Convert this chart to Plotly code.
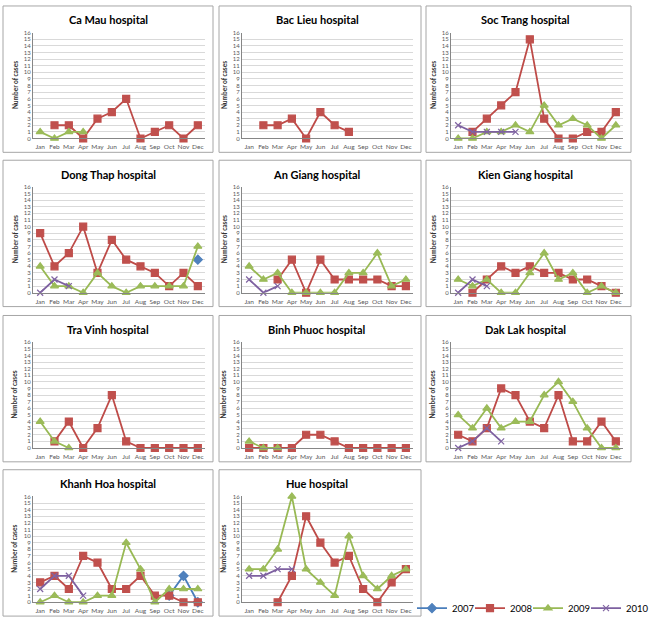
import plotly.graph_objects as go

# ── data ─────────────────────────────────────────────────────────────────────
MONTHS = ["Jan", "Feb", "Mar", "Apr", "May", "Jun",
          "Jul", "Aug", "Sep", "Oct", "Nov", "Dec"]
YEARS = ["2007", "2008", "2009", "2010"]
N = None

CA_MAU_2008 = [N, 2, 2, 0, 3, 4, 6, 0, 1, 2, 0, 2]
CA_MAU_2009 = [1, 0, 1, 1, N, N, N, N, N, N, N, N]

BAC_LIEU_2008 = [N, 2, 2, 3, 0, 4, 2, 1, N, N, N, N]

SOC_TRANG_2008 = [N, 1, 3, 5, 7, 15, 3, 0, 0, 1, 1, 4]
SOC_TRANG_2009 = [0, 0, 1, 1, 2, 1, 5, 2, 3, 2, 0, 2]
SOC_TRANG_2010 = [2, 1, 1, 1, 1, N, N, N, N, N, N, N]

DONG_THAP_2007 = [N, N, N, N, N, N, N, N, N, N, N, 5]
DONG_THAP_2008 = [9, 4, 6, 10, 3, 8, 5, 4, 3, 1, 3, 1]
DONG_THAP_2009 = [4, 1, 1, 0, 3, 1, 0, 1, 1, 1, 1, 7]
DONG_THAP_2010 = [0, 2, 1, N, N, N, N, N, N, N, N, N]

AN_GIANG_2008 = [N, N, 2, 5, 0, 5, 2, 2, 2, 2, 1, 1]
AN_GIANG_2009 = [4, 2, 3, 0, 0, 0, 0, 3, 3, 6, 1, 2]
AN_GIANG_2010 = [2, 0, 1, N, N, N, N, N, N, N, N, N]

KIEN_GIANG_2008 = [N, 0, 2, 4, 3, 4, 3, 3, 2, 2, 1, 0]
KIEN_GIANG_2009 = [2, 1, 2, 0, 0, 3, 6, 2, 3, 0, 1, 0]
KIEN_GIANG_2010 = [0, 2, 1, N, N, N, N, N, N, N, N, N]

TRA_VINH_2008 = [N, 1, 4, 0, 3, 8, 1, 0, 0, 0, 0, 0]
TRA_VINH_2009 = [4, 1, 0, N, N, N, N, N, N, N, N, N]

BINH_PHUOC_2008 = [0, 0, 0, 0, 2, 2, 1, 0, 0, 0, 0, 0]
BINH_PHUOC_2009 = [1, 0, 0, N, N, N, N, N, N, N, N, N]

DAK_LAK_2008 = [2, 1, 3, 9, 8, 4, 3, 8, 1, 1, 4, 1]
DAK_LAK_2009 = [5, 3, 6, 3, 4, 4, 8, 10, 7, 3, 0, 0]
DAK_LAK_2010 = [0, 1, 3, 1, N, N, N, N, N, N, N, N]

KHANH_HOA_2007 = [N, N, N, N, N, N, N, N, N, 1, 4, 0]
KHANH_HOA_2008 = [3, 4, 2, 7, 6, 2, 2, 4, 1, 1, 0, 0]
KHANH_HOA_2009 = [0, 1, 0, 0, 1, 1, 9, 5, 0, 2, 2, 2]
KHANH_HOA_2010 = [2, 4, 4, 1, N, N, N, N, N, N, N, N]

HUE_2008 = [N, N, 0, 4, 13, 9, 6, 7, 2, 0, 3, 5]
HUE_2009 = [5, 5, 8, 16, 5, 3, 1, 10, 4, 2, 4, 5]
HUE_2010 = [4, 4, 5, 5, N, N, N, N, N, N, N, N]

HOSPITALS = [
    ("Ca Mau hospital", {"2008": CA_MAU_2008, "2009": CA_MAU_2009}),
    ("Bac Lieu hospital", {"2008": BAC_LIEU_2008}),
    ("Soc Trang hospital", {"2008": SOC_TRANG_2008, "2009": SOC_TRANG_2009,
                            "2010": SOC_TRANG_2010}),
    ("Dong Thap hospital", {"2007": DONG_THAP_2007, "2008": DONG_THAP_2008,
                            "2009": DONG_THAP_2009, "2010": DONG_THAP_2010}),
    ("An Giang hospital", {"2008": AN_GIANG_2008, "2009": AN_GIANG_2009,
                           "2010": AN_GIANG_2010}),
    ("Kien Giang hospital", {"2008": KIEN_GIANG_2008, "2009": KIEN_GIANG_2009,
                             "2010": KIEN_GIANG_2010}),
    ("Tra Vinh hospital", {"2008": TRA_VINH_2008, "2009": TRA_VINH_2009}),
    ("Binh Phuoc hospital", {"2008": BINH_PHUOC_2008, "2009": BINH_PHUOC_2009}),
    ("Dak Lak hospital", {"2008": DAK_LAK_2008, "2009": DAK_LAK_2009,
                          "2010": DAK_LAK_2010}),
    ("Khanh Hoa hospital", {"2007": KHANH_HOA_2007, "2008": KHANH_HOA_2008,
                            "2009": KHANH_HOA_2009, "2010": KHANH_HOA_2010}),
    ("Hue hospital", {"2008": HUE_2008, "2009": HUE_2009, "2010": HUE_2010}),
]

# ── styling ──────────────────────────────────────────────────────────────────
STYLE = {
    "2007": dict(line="#4A7EBB", marker="#4F81BD", symbol="diamond", size=7),
    "2008": dict(line="#BE4B48", marker="#C0504D", symbol="square", size=7),
    "2009": dict(line="#98B954", marker="#9BBB59", symbol="triangle-up", size=7),
    "2010": dict(line="#7D60A0", marker="#8064A2", symbol="x-thin-open", size=6),
}
FONT = "Lato, 'Open Sans', sans-serif"
W, H = 659, 626
ROW_TOP = [2, 158, 315, 471]
BOX_X = [(3, 213), (219, 421), (426, 631)]
PLOT_X = [(33, 205), (242, 413), (451, 623)]
TITLE_X = [108, 317, 525]
YTITLE_X = [15, 224, 433]
# one legend per year so that the entries can sit close together
LEGEND_IDS = {"2007": "legend", "2008": "legend2", "2009": "legend3", "2010": "legend4"}
LEGEND_X = {"2007": 412, "2008": 470, "2009": 528, "2010": 586}

fig = go.Figure()
layout = {}
shapes, annotations = [], []
shown = set()

for i, (name, series) in enumerate(HOSPITALS):
    r, c = divmod(i, 3)
    top = ROW_TOP[r]
    n = "" if i == 0 else str(i + 1)

    for yr in YEARS:
        if yr not in series:
            continue
        st = STYLE[yr]
        fig.add_trace(go.Scatter(
            x=MONTHS, y=series[yr], xaxis="x" + n, yaxis="y" + n,
            mode="lines+markers", name=yr, legendgroup=yr, legend=LEGEND_IDS[yr],
            showlegend=yr not in shown, cliponaxis=False,
            line=dict(color=st["line"], width=1.8),
            marker=dict(symbol=st["symbol"], size=st["size"], color=st["marker"],
                        line=dict(color=st["marker"], width=1.2)),
        ))
        shown.add(yr)

    px0, px1 = PLOT_X[c]
    layout["xaxis" + n] = dict(
        domain=[px0 / W, px1 / W], anchor="y" + n,
        type="category", categoryarray=MONTHS, range=[-0.5, 11.5],
        showgrid=False, zeroline=False, showline=True, linecolor="#868686",
        linewidth=1, ticks="", tickangle=0, ticklabelstandoff=2,
        tickfont=dict(size=6.5, color="#595959"), fixedrange=True,
    )
    layout["yaxis" + n] = dict(
        domain=[1 - (top + 134) / H, 1 - (top + 27) / H], anchor="x" + n,
        range=[0, 16], dtick=1, showgrid=True, gridcolor="#D9D9D9", gridwidth=1,
        zeroline=False, showline=True, linecolor="#868686", linewidth=1,
        ticks="", tickfont=dict(size=6, color="#595959"), fixedrange=True,
    )

    bx0, bx1 = BOX_X[c]
    shapes.append(dict(
        type="rect", xref="paper", yref="paper",
        x0=bx0 / W, x1=bx1 / W, y0=1 - (top + 148) / H, y1=1 - top / H,
        line=dict(color="#A6A6A6", width=1), layer="below",
    ))
    annotations.append(dict(
        text=f"<b>{name}</b>", xref="paper", yref="paper",
        x=TITLE_X[c] / W, y=1 - (top + 14) / H, xanchor="center", yanchor="middle",
        showarrow=False, font=dict(size=11, color="#000000", family=FONT),
    ))
    annotations.append(dict(
        text="<b>Number of cases</b>", xref="paper", yref="paper",
        x=YTITLE_X[c] / W, y=1 - (top + 80) / H, xanchor="center", yanchor="middle",
        textangle=-90, showarrow=False, font=dict(size=6.5, color="#333333", family=FONT),
    ))

for yr, lid in LEGEND_IDS.items():
    layout[lid] = dict(
        orientation="h", x=LEGEND_X[yr] / W, y=1 - 611 / H,
        xanchor="left", yanchor="middle", font=dict(size=9.5, color="#000000"),
        itemwidth=30, bgcolor="rgba(0,0,0,0)",
    )

fig.update_layout(
    **layout,
    width=W, height=H,
    margin=dict(l=0, r=0, t=0, b=0),
    paper_bgcolor="white", plot_bgcolor="white",
    font=dict(family=FONT, color="#404040"),
    shapes=shapes, annotations=annotations,
    showlegend=True,
)

fig.write_html("out.html", config={"displayModeBar": False},
               post_script="document.body.style.margin='0';")
